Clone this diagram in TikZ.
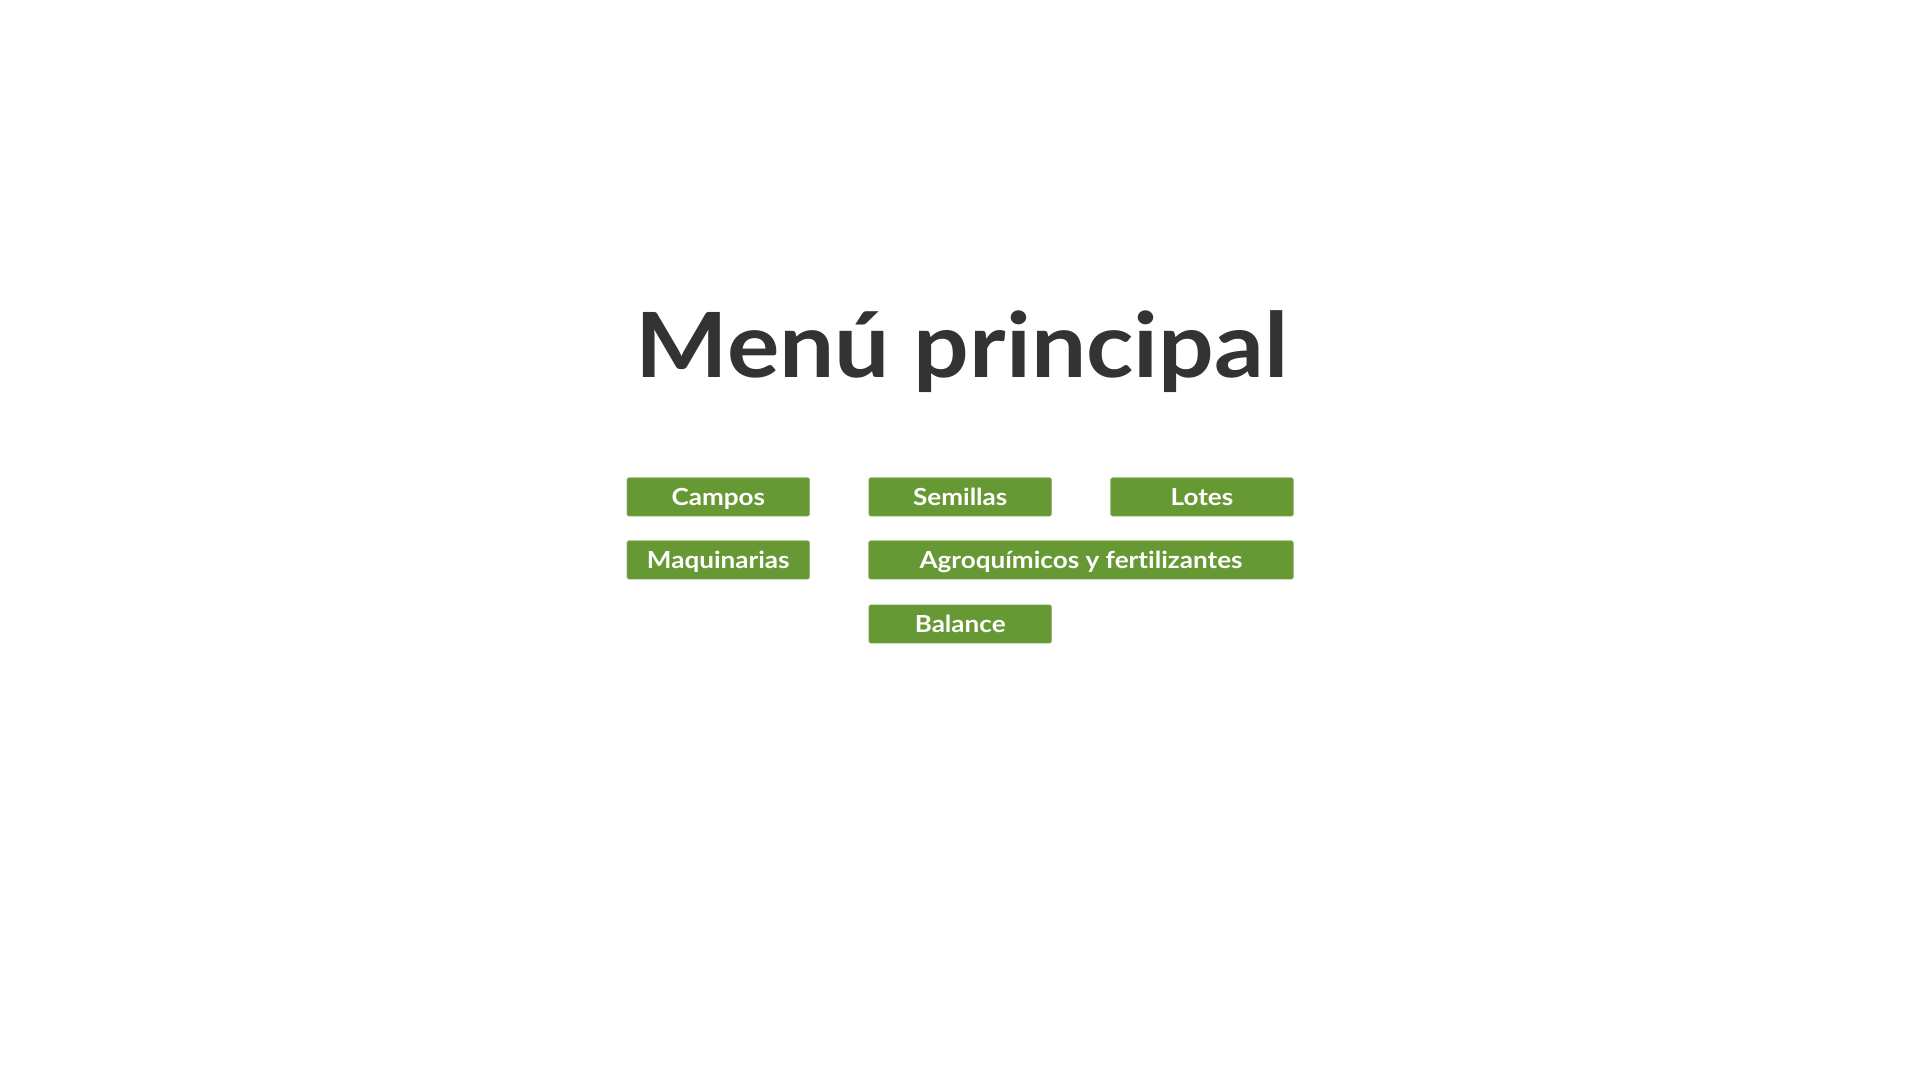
\documentclass[tikz,border=0pt]{standalone}
\usepackage{fontspec}
\setmainfont{Lato}
\newfontfamily\titlefont{Lato}[UprightFont=* Bold, FakeStretch=1.09, Ligatures=NoCommon]
\newfontfamily\btnfont{Lato}[UprightFont=* Bold, FakeStretch=1.11, Ligatures=NoCommon]
\definecolor{titlegray}{HTML}{333333}
\definecolor{btngreen}{HTML}{669933}
\begin{document}
\begin{tikzpicture}[x=1pt,y=-1pt,
  btn/.style={fill=btngreen, draw=btngreen!70!white, line width=0.6pt, rounded corners=1.5pt,
    minimum height=38.3pt, inner sep=0pt, text=white, text height=16.5pt, text depth=0pt,
    font=\btnfont\fontsize{23.5}{26}\selectfont},
  ]
\useasboundingbox (0,0) rectangle (1921,1081);
\fill[white] (0,0) rectangle (1921,1081);
\node[anchor=base, text=titlegray, inner sep=0pt,
  font=\titlefont\fontsize{90}{100}\selectfont] (title) at (962.3,377.3) {Menú principal};
\node[btn, minimum width=182.6pt] (campos) at (718.3,496.9) {Campos};
\node[btn, minimum width=182.6pt] (semillas) at (960.2,496.9) {Semillas};
\node[btn, minimum width=182.6pt] (lotes) at (1202.0,496.9) {Lotes};
\node[btn, minimum width=182.6pt] (maquinarias) at (718.3,559.9) {Maquinarias};
\node[btn, minimum width=424.6pt] (agro) at (1081.0,559.9) {Agroquímicos y fertilizantes};
\node[btn, minimum width=182.6pt] (balance) at (960.2,624.0) {Balance};
\end{tikzpicture}
\end{document}
